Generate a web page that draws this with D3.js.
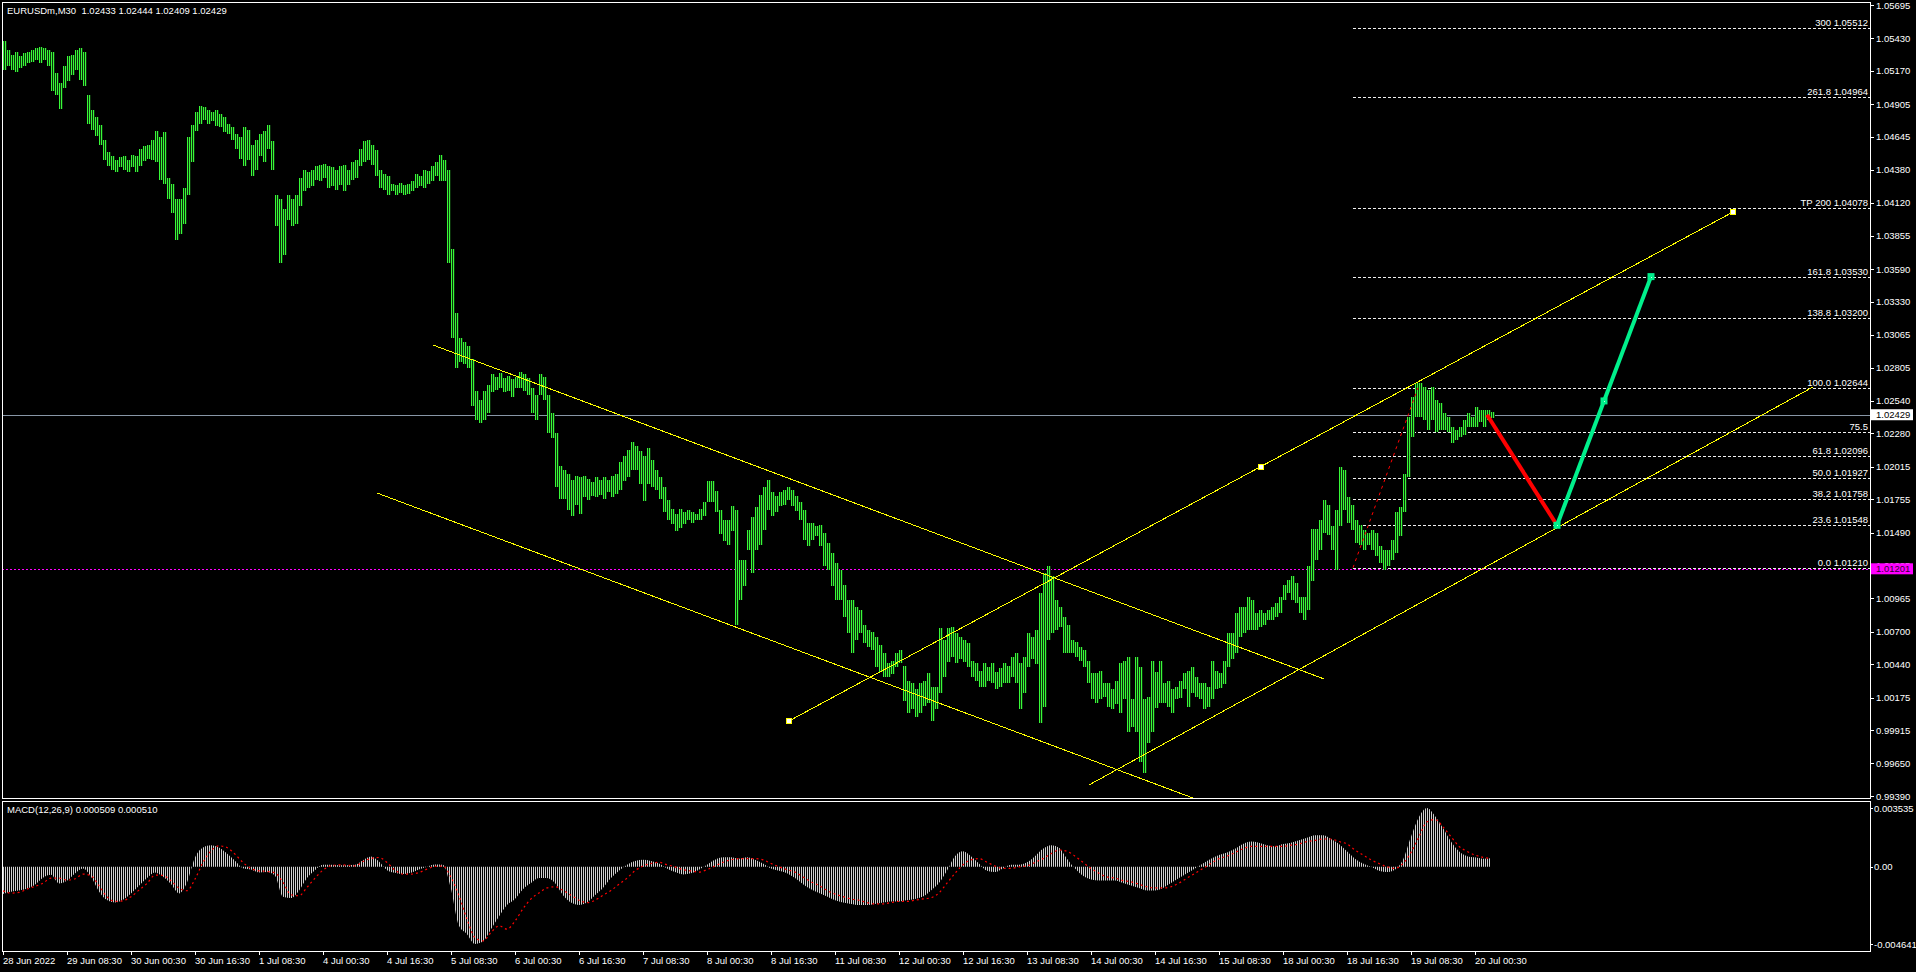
<!DOCTYPE html>
<html><head><meta charset="utf-8">
<script src="https://cdn.jsdelivr.net/npm/d3@7"></script>
<style>
body{margin:0;background:#000;overflow:hidden}
svg{display:block}
text{font-family:"Liberation Sans",Arial,sans-serif;font-size:9.5px;fill:#fff;white-space:pre}
</style></head><body>
<svg id="c" width="1916" height="972"></svg>
<script>
// ---------- DATA ----------
const symbolTitle = "EURUSDm,M30  1.02433 1.02444 1.02409 1.02429";
const macdTitle = "MACD(12,26,9) 0.000509 0.000510";
// hourly high / low (each entry spans two M30 bars)
const barHigh = [
1.0541,1.0534,1.0530,1.0532,1.0529,1.0531,1.0532,1.0534,1.0535,1.0536,1.0535,1.0534,
1.0532,1.0515,1.0507,1.0521,1.0529,1.0530,1.0534,1.0535,1.0532,1.0498,1.0486,1.0480,1.0474,
1.0462,1.0452,1.0449,1.0446,1.0448,1.0449,1.0446,1.0450,1.0449,1.0455,1.0457,1.0458,1.0462,1.0469,1.0464,1.0468,
1.0432,1.0427,1.0415,1.0415,1.0424,1.0464,1.0474,1.0484,1.0489,
1.0488,1.0486,1.0484,1.0486,1.0483,1.0480,1.0475,1.0472,1.0467,1.0464,
1.0472,1.0470,1.0458,1.0462,1.0467,1.0469,1.0474,1.0461,
1.0418,1.0415,1.0407,1.0418,1.0415,1.0418,1.0432,1.0438,1.0436,1.0438,1.0441,
1.0442,1.0443,1.0441,1.0440,1.0438,1.0441,1.0442,1.0438,1.0444,1.0446,
1.0455,1.0461,1.0462,1.0458,1.0454,1.0438,1.0435,1.0433,1.0427,1.0426,1.0428,1.0426,1.0427,1.0429,
1.0435,1.0433,1.0438,1.0437,1.0441,1.0444,1.0450,1.0446,
1.0438,1.0375,1.0324,1.0304,1.0301,1.0298,1.0287,1.0262,1.0255,1.0262,1.0267,
1.0275,1.0273,1.0276,1.0272,1.0274,1.0271,1.0273,1.0277,1.0275,1.0272,
1.0264,1.0259,1.0275,1.0273,1.0259,1.0244,1.0228,1.0202,
1.0199,1.0196,1.0191,1.0194,1.0193,1.0194,1.0192,1.0189,1.0193,1.0191,1.0193,1.0191,1.0194,1.0196,
1.0205,1.0210,1.0215,1.0221,1.0218,1.0214,1.0210,1.0216,
1.0207,1.0199,1.0193,1.0185,1.0175,1.0168,1.0164,
1.0168,1.0165,1.0167,1.0165,1.0164,1.0168,1.0173,1.0190,
1.0190,1.0182,1.0167,1.0159,1.0159,1.0170,
1.0167,1.0127,1.0127,1.0151,1.0161,1.0169,1.0179,1.0185,1.0191,
1.0181,1.0178,1.0181,1.0183,1.0185,1.0183,1.0178,
1.0173,1.0167,1.0157,1.0157,1.0154,1.0155,1.0149,1.0141,
1.0133,1.0125,1.0119,1.0107,1.0095,1.0095,
1.0090,1.0087,1.0075,1.0071,1.0070,1.0066,1.0059,
1.0053,1.0045,1.0047,1.0053,1.0055,1.0043,
1.0031,1.0029,1.0024,1.0029,1.0031,1.0037,1.0026,1.0026,1.0073,1.0063,
1.0073,1.0074,1.0069,1.0066,1.0063,1.0061,
1.0047,1.0045,1.0039,1.0045,1.0042,1.0045,1.0038,1.0041,
1.0045,1.0043,1.0050,1.0053,1.0045,1.0050,1.0069,1.0066,1.0071,
1.0101,1.0117,1.0122,1.0114,1.0095,
1.0090,1.0082,1.0075,1.0063,1.0062,1.0058,1.0055,1.0047,
1.0037,1.0037,1.0039,1.0029,1.0029,1.0024,1.0031,1.0045,1.0047,1.0050,
1.0016,1.0050,1.0042,1.0016,1.0018,1.0047,1.0038,
1.0047,1.0029,1.0031,1.0024,1.0026,
1.0031,1.0037,1.0039,1.0042,1.0034,1.0029,1.0029,
1.0026,1.0047,1.0039,1.0037,1.0047,
1.0069,1.0069,1.0085,1.0090,1.0090,
1.0098,1.0095,1.0085,1.0087,1.0085,
1.0087,1.0090,1.0093,1.0098,
1.0107,1.0111,1.0114,1.0109,
1.0098,1.0098,1.0122,1.0152,
1.0152,1.0159,1.0175,
1.0171,1.0154,1.0167,1.0201,1.0199,
1.0177,1.0171,1.0159,
1.0155,1.0151,1.0149,1.0151,1.0149,
1.0138,1.0135,1.0135,1.0143,1.0165,
1.0169,1.0196,1.0241,1.0257,1.0268,
1.0268,1.0265,1.0263,1.0265,1.0255,
1.0252,1.0244,1.0241,
1.0233,1.0231,1.0233,1.0239,1.0244,
1.0241,1.0249,1.0247,1.0247,1.0247,1.0245];
const barLow = [
1.0518,1.0521,1.0518,1.0516,1.0519,1.0521,1.0523,1.0524,1.0526,1.0523,1.0526,1.0521,
1.0501,1.0498,1.0487,1.0503,1.0509,1.0514,1.0518,1.0510,1.0505,1.0475,1.0470,1.0465,1.0458,
1.0446,1.0441,1.0438,1.0436,1.0440,1.0438,1.0436,1.0440,1.0436,1.0441,1.0445,1.0447,1.0446,1.0444,1.0430,1.0427,
1.0415,1.0404,1.0382,1.0387,1.0395,1.0418,1.0444,1.0469,1.0475,
1.0478,1.0475,1.0477,1.0473,1.0472,1.0468,1.0467,1.0462,1.0455,1.0447,
1.0441,1.0446,1.0433,1.0438,1.0449,1.0444,1.0455,1.0438,
1.0393,1.0364,1.0370,1.0398,1.0393,1.0395,1.0409,1.0421,1.0424,1.0425,1.0430,
1.0429,1.0432,1.0424,1.0425,1.0422,1.0426,1.0421,1.0426,1.0430,1.0432,
1.0441,1.0444,1.0446,1.0442,1.0433,1.0424,1.0422,1.0418,1.0421,1.0418,1.0420,1.0418,1.0419,1.0421,
1.0424,1.0425,1.0424,1.0427,1.0429,1.0433,1.0429,1.0429,
1.0364,1.0304,1.0280,1.0285,1.0283,1.0280,1.0250,1.0239,1.0236,1.0239,1.0244,
1.0261,1.0263,1.0264,1.0261,1.0262,1.0257,1.0264,1.0264,1.0262,1.0259,
1.0244,1.0239,1.0259,1.0255,1.0228,1.0224,1.0185,1.0176,
1.0176,1.0167,1.0162,1.0171,1.0164,1.0177,1.0175,1.0178,1.0177,1.0179,1.0176,1.0181,1.0177,1.0180,
1.0183,1.0190,1.0193,1.0199,1.0199,1.0188,1.0174,1.0188,
1.0185,1.0183,1.0176,1.0165,1.0159,1.0156,1.0150,
1.0153,1.0156,1.0159,1.0157,1.0159,1.0159,1.0162,1.0173,
1.0173,1.0165,1.0148,1.0142,1.0139,1.0150,
1.0075,1.0095,1.0106,1.0135,1.0117,1.0135,1.0139,1.0151,1.0167,
1.0162,1.0165,1.0170,1.0171,1.0175,1.0170,1.0166,
1.0159,1.0143,1.0138,1.0143,1.0146,1.0138,1.0122,1.0119,
1.0106,1.0095,1.0095,1.0082,1.0069,1.0053,
1.0063,1.0069,1.0061,1.0058,1.0055,1.0042,1.0038,
1.0034,1.0034,1.0036,1.0042,1.0045,1.0015,
1.0005,1.0008,1.0002,1.0005,1.0011,1.0013,0.9999,1.0008,1.0021,1.0034,
1.0046,1.0050,1.0045,1.0048,1.0046,1.0042,
1.0034,1.0031,1.0026,1.0026,1.0031,1.0029,1.0024,1.0026,
1.0029,1.0029,1.0034,1.0029,1.0008,1.0021,1.0042,1.0048,1.0044,
0.9997,1.0010,1.0063,1.0069,1.0071,
1.0074,1.0053,1.0053,1.0053,1.0050,1.0047,1.0042,1.0029,
1.0016,1.0013,1.0016,1.0018,1.0010,1.0008,1.0012,1.0005,1.0016,0.9990,
0.9994,0.9990,0.9966,0.9957,0.9981,0.9990,1.0009,
1.0013,1.0013,1.0010,1.0005,1.0016,
1.0017,1.0024,1.0010,1.0021,1.0018,1.0016,1.0008,
1.0010,1.0016,1.0024,1.0025,1.0028,
1.0042,1.0048,1.0053,1.0066,1.0069,
1.0071,1.0071,1.0071,1.0074,1.0075,
1.0079,1.0079,1.0082,1.0085,
1.0095,1.0101,1.0095,1.0093,
1.0085,1.0079,1.0087,1.0110,
1.0127,1.0135,1.0149,
1.0147,1.0135,1.0119,1.0154,1.0167,
1.0157,1.0151,1.0141,
1.0139,1.0135,1.0139,1.0135,1.0130,
1.0125,1.0119,1.0122,1.0127,1.0133,
1.0146,1.0165,1.0193,1.0225,1.0241,
1.0241,1.0239,1.0231,1.0239,1.0229,
1.0231,1.0231,1.0229,
1.0220,1.0223,1.0225,1.0227,1.0233,
1.0233,1.0233,1.0237,1.0233,1.0239,1.0240];

// MACD main (histogram) and signal, one value every 4 bars
const macdMain = [
-0.00164,-0.00150,-0.00142,-0.00132,-0.00108,-0.00066,-0.00048,-0.00100,-0.00084,-0.00040,
-0.00010,-0.00060,-0.00148,-0.00200,-0.00214,-0.00198,-0.00160,-0.00114,-0.00068,-0.00034,
-0.00060,-0.00104,-0.00160,-0.00094,0.00056,0.00116,0.00130,0.00116,0.00080,0.00036,
-0.00008,-0.00016,-0.00034,-0.00032,-0.00054,-0.00180,-0.00188,-0.00144,-0.00068,-0.00020,
0.00012,0.00012,0.00010,0.00010,0.00012,0.00040,0.00062,0.00032,-0.00020,-0.00036,
-0.00044,-0.00036,-0.00016,0.00000,0.00014,0.00012,-0.00134,-0.00355,-0.00405,-0.00464,
-0.00449,-0.00375,-0.00299,
-0.00230,-0.00193,-0.00135,-0.00098,-0.00068,-0.00068,-0.00098,-0.00171,-0.00215,-0.00230,
-0.00215,-0.00171,-0.00127,-0.00068,-0.00024,0.00012,0.00035,0.00042,0.00035,0.00020,
-0.00010,-0.00032,-0.00046,-0.00039,-0.00017,0.00012,0.00042,0.00057,0.00057,0.00049,
0.00057,0.00042,0.00020,-0.00010,-0.00024,-0.00039,-0.00068,-0.00105,-0.00135,-0.00157,
-0.00179,-0.00201,-0.00215,-0.00223,-0.00230,-0.00230,-0.00223,-0.00215,-0.00208,-0.00208,
-0.00201,-0.00193,-0.00179,-0.00142,-0.00098,-0.00024,0.00064,0.00093,0.00064,0.00020,
-0.00024,-0.00032,-0.00010,0.00012,0.00012,0.00027,0.00064,0.00108,0.00130,0.00115,
0.00049,-0.00010,-0.00054,-0.00076,-0.00083,-0.00083,-0.00083,-0.00098,-0.00112,-0.00127,
-0.00142,-0.00142,-0.00127,-0.00098,-0.00068,-0.00039,-0.00010,0.00020,0.00049,0.00071,
0.00086,0.00108,0.00137,0.00152,0.00145,0.00130,0.00123,0.00137,0.00145,0.00159,
0.00174,0.00189,0.00189,0.00167,0.00137,0.00093,0.00049,0.00020,0.00000,-0.00024,
-0.00032,-0.00017,0.00042,0.00181,0.00299,0.00353,0.00306,0.00233,0.00152,0.00093,
0.00064,0.00057,0.00049,0.00051];
const macdSignal = [
-0.00144,-0.00158,-0.00154,-0.00134,-0.00118,-0.00098,-0.00068,-0.00068,-0.00080,-0.00072,
-0.00044,-0.00054,-0.00114,-0.00180,-0.00208,-0.00204,-0.00180,-0.00140,-0.00100,-0.00050,
-0.00052,-0.00084,-0.00128,-0.00144,-0.00074,0.00026,0.00096,0.00126,0.00116,0.00076,
0.00026,-0.00010,-0.00024,-0.00028,-0.00036,-0.00094,-0.00168,-0.00174,-0.00124,-0.00068,
-0.00020,0.00006,0.00012,0.00010,0.00006,0.00032,0.00050,0.00056,0.00026,-0.00020,
-0.00044,-0.00044,-0.00034,-0.00014,0.00002,0.00004,-0.00064,-0.00174,-0.00315,-0.00425,
-0.00445,-0.00395,-0.00355,
-0.00375,-0.00326,-0.00252,-0.00193,-0.00157,-0.00127,-0.00120,-0.00142,-0.00171,-0.00201,
-0.00215,-0.00201,-0.00171,-0.00142,-0.00105,-0.00068,-0.00024,0.00005,0.00020,0.00027,
0.00012,0.00000,-0.00017,-0.00024,-0.00032,-0.00017,0.00005,0.00027,0.00042,0.00049,
0.00049,0.00049,0.00042,0.00020,0.00000,-0.00017,-0.00032,-0.00061,-0.00090,-0.00112,
-0.00142,-0.00164,-0.00179,-0.00193,-0.00201,-0.00215,-0.00223,-0.00223,-0.00215,-0.00208,
-0.00208,-0.00201,-0.00193,-0.00186,-0.00157,-0.00098,-0.00039,0.00012,0.00042,0.00049,
0.00027,0.00005,-0.00010,-0.00010,0.00000,0.00005,0.00027,0.00049,0.00079,0.00101,
0.00093,0.00064,0.00027,-0.00010,-0.00039,-0.00061,-0.00068,-0.00083,-0.00090,-0.00105,
-0.00120,-0.00127,-0.00127,-0.00120,-0.00098,-0.00068,-0.00039,-0.00010,0.00020,0.00049,
0.00064,0.00086,0.00108,0.00123,0.00123,0.00123,0.00123,0.00123,0.00130,0.00137,
0.00152,0.00159,0.00167,0.00167,0.00152,0.00137,0.00101,0.00071,0.00042,0.00020,
0.00000,-0.00010,0.00020,0.00086,0.00181,0.00270,0.00284,0.00240,0.00181,0.00123,
0.00093,0.00071,0.00057,0.00051];

const priceTicks = [1.05695,1.05430,1.05170,1.04905,1.04645,1.04380,1.04120,1.03855,1.03590,1.03330,1.03065,1.02805,1.02540,1.02280,1.02015,1.01755,1.01490,1.01225,1.00965,1.00700,1.00440,1.00175,0.99915,0.99650,0.99390];
const macdTicks = [0.003535, 0, -0.004641];
const macdTickLabels = ["0.003535", "0.00", "-0.004641"];
const timeLabels = ["28 Jun 2022","29 Jun 08:30","30 Jun 00:30","30 Jun 16:30","1 Jul 08:30","4 Jul 00:30","4 Jul 16:30","5 Jul 08:30","6 Jul 00:30","6 Jul 16:30","7 Jul 08:30","8 Jul 00:30","8 Jul 16:30","11 Jul 08:30","12 Jul 00:30","12 Jul 16:30","13 Jul 08:30","14 Jul 00:30","14 Jul 16:30","15 Jul 08:30","18 Jul 00:30","18 Jul 16:30","19 Jul 08:30","20 Jul 00:30"];
const barsPerTimeLabel = 32;

const lastPrice = 1.02429;
const alertPrice = 1.01201;
// fibonacci expansion
const fibLow = 1.01210, fibHigh = 1.02644;
const fibLowBar = 675, fibHighBar = 707.5;
const fibLevels = [0, 23.6, 38.2, 50.0, 61.8, 75.5, 100.0, 138.8, 161.8, 200, 261.8, 300];
const fibLabels = ["0.0 1.01210","23.6 1.01548","38.2 1.01758","50.0 1.01927","61.8 1.02096","75.5","100.0 1.02644","138.8 1.03200","161.8 1.03530","TP 200 1.04078","261.8 1.04964","300 1.05512"];
// trend lines [bar, price]
const channelDownUpper = [[215, 1.02985], [660.5, 1.00323]];
const channelDownLower = [[187, 1.01805], [595, 0.99374]];
const channelUp1 = [[393, 0.99988], [865, 1.04045]];
const channelUp1Marks = [[393, 0.99988], [629, 1.02013], [865, 1.04045]];
const channelUp2 = [[543, 0.99478], [905, 1.02650]];
const projDown = [[742, 1.02429], [777, 1.01548]];
const projUp = [[777, 1.01548], [800.5, 1.02539], [824, 1.03530]];

// ---------- LAYOUT ----------
const L = 2, R = 1870, mainTop = 2, mainBottom = 798, macdTop = 801, macdBottom = 951;
const svg = d3.select("#c");
svg.append("rect").attr("width",1916).attr("height",972).attr("fill","#000");

const xB = d3.scaleLinear().domain([0, 1]).range([3, 5]);
const yP = d3.scaleLinear().domain([0.99390, 1.05695]).range([796, 5]);
const yM = d3.scaleLinear().domain([-0.004641, 0.003535]).range([944, 808]);

const defs = svg.append("defs");
const pg = defs.append("pattern").attr("id","gStripe").attr("patternUnits","userSpaceOnUse")
  .attr("x",1).attr("y",0).attr("width",2).attr("height",4);
pg.append("rect").attr("width",1).attr("height",4).attr("fill","#38f838");
pg.append("rect").attr("x",1).attr("width",1).attr("height",4).attr("fill","#0a300a");
const ph = defs.append("pattern").attr("id","hStripe").attr("patternUnits","userSpaceOnUse")
  .attr("x",1).attr("y",0).attr("width",2).attr("height",4);
ph.append("rect").attr("width",1).attr("height",4).attr("fill","#d0d0d0");
defs.append("clipPath").attr("id","clipMain").append("rect")
  .attr("x",L+1).attr("y",mainTop+1).attr("width",R-L-1).attr("height",mainBottom-mainTop-1);
defs.append("clipPath").attr("id","clipMacd").append("rect")
  .attr("x",L+1).attr("y",macdTop+1).attr("width",R-L-1).attr("height",macdBottom-macdTop-1);

const main = svg.append("g").attr("clip-path","url(#clipMain)");

// fib level lines
const fibPrice = p => fibLow + p/100*(fibHigh - fibLow);
main.append("g").selectAll("line").data(fibLevels).join("line")
  .attr("x1", xB(fibLowBar)).attr("x2", R)
  .attr("y1", d => Math.round(yP(fibPrice(d)))+0.5).attr("y2", d => Math.round(yP(fibPrice(d)))+0.5)
  .attr("stroke","#f0f0f0").attr("stroke-width",1).attr("stroke-dasharray","3,2");
svg.append("g").selectAll("text").data(fibLevels).join("text")
  .attr("x", R-2).attr("y", d => Math.round(yP(fibPrice(d))) - 2.5)
  .attr("text-anchor","end").text((d,i) => fibLabels[i]);

// last price line and alert line
main.append("line").attr("x1",L).attr("x2",R)
  .attr("y1",Math.round(yP(lastPrice))+0.5).attr("y2",Math.round(yP(lastPrice))+0.5)
  .attr("stroke","#8896a6").attr("stroke-width",1);
main.append("line").attr("x1",L).attr("x2",R)
  .attr("y1",Math.round(yP(alertPrice))+0.5).attr("y2",Math.round(yP(alertPrice))+0.5)
  .attr("stroke","#ff00ff").attr("stroke-width",1).attr("stroke-dasharray","2,2");

// price bars
main.append("g").selectAll("rect").data(barHigh).join("rect")
  .attr("x", (d,i) => xB(2*i)).attr("width", (d,i) => xB(2*i+2) - xB(2*i))
  .attr("y", d => Math.round(yP(d)))
  .attr("height", (d,i) => Math.max(1, Math.round(yP(barLow[i])) - Math.round(yP(d))))
  .attr("fill","url(#gStripe)").attr("shape-rendering","crispEdges");

// trend lines
const tl = d3.line().x(d => xB(d[0])).y(d => yP(d[1]));
[channelDownUpper, channelDownLower, channelUp1, channelUp2].forEach(seg => {
  main.append("path").attr("d", tl(seg)).attr("fill","none").attr("stroke","#ffff00")
    .attr("stroke-width",1).attr("shape-rendering","crispEdges");
});
// fib base dotted line
main.append("path").attr("d", tl([[fibLowBar, fibLow],[fibHighBar, fibHigh]]))
  .attr("fill","none").attr("stroke","#ff0000").attr("stroke-width",1).attr("stroke-dasharray","3,4");
// projection
main.append("path").attr("d", tl(projDown)).attr("fill","none").attr("stroke","#ff0000").attr("stroke-width",4);
main.append("path").attr("d", tl(projUp)).attr("fill","none").attr("stroke","#00f08c").attr("stroke-width",4);
main.append("g").selectAll("rect").data(projUp).join("rect")
  .attr("x", d => xB(d[0]) - 3.5).attr("y", d => yP(d[1]) - 3.5).attr("width",7).attr("height",7)
  .attr("fill","#00f08c");
main.append("g").selectAll("rect").data(projUp).join("rect")
  .attr("x", d => Math.round(xB(d[0]))).attr("y", d => Math.round(yP(d[1]))).attr("width",1).attr("height",1)
  .attr("fill","#c0ffe0");
main.append("g").selectAll("rect").data(channelUp1Marks).join("rect")
  .attr("x", d => Math.round(xB(d[0])) - 2.5).attr("y", d => Math.round(yP(d[1])) - 2.5).attr("width",5).attr("height",5)
  .attr("fill","#ffffff").attr("stroke","#ffff00").attr("stroke-width",1);

// MACD
const mg = svg.append("g").attr("clip-path","url(#clipMacd)");
const area = d3.area().x((d,i) => xB(4*i)).y0(yM(0)).y1(d => yM(d)).curve(d3.curveMonotoneX);
mg.append("path").attr("d", area(macdMain)).attr("fill","url(#hStripe)");
const sl = d3.line().x((d,i) => xB(4*i)).y(d => yM(d)).curve(d3.curveMonotoneX);
mg.append("path").attr("d", sl(macdSignal)).attr("fill","none").attr("stroke","#ff0000")
  .attr("stroke-width",1.2).attr("stroke-dasharray","2,3");

// frames
svg.append("rect").attr("x",L+0.5).attr("y",mainTop+0.5).attr("width",R-L).attr("height",mainBottom-mainTop)
  .attr("fill","none").attr("stroke","#fff").attr("stroke-width",1);
svg.append("rect").attr("x",L+0.5).attr("y",macdTop+0.5).attr("width",R-L).attr("height",macdBottom-macdTop)
  .attr("fill","none").attr("stroke","#fff").attr("stroke-width",1);

// price axis
const pa = svg.append("g");
pa.selectAll("line").data(priceTicks).join("line")
  .attr("x1",R+0.5).attr("x2",R+4).attr("y1",d => Math.round(yP(d))+0.5).attr("y2",d => Math.round(yP(d))+0.5)
  .attr("stroke","#fff");
pa.selectAll("text").data(priceTicks).join("text")
  .attr("x",R+6).attr("y",d => yP(d)+3.5).text(d => d.toFixed(5));
// current price box
svg.append("rect").attr("x",R+1).attr("y",yP(lastPrice)-5.5).attr("width",42).attr("height",11).attr("fill","#fff");
svg.append("text").attr("x",R+6).attr("y",yP(lastPrice)+3.5).style("fill","#000").text(lastPrice.toFixed(5));
svg.append("rect").attr("x",R+1).attr("y",yP(alertPrice)-5.5).attr("width",42).attr("height",11).attr("fill","#ff00ff");
svg.append("text").attr("x",R+6).attr("y",yP(alertPrice)+3.5).style("fill","#300030").text(alertPrice.toFixed(5));

// MACD axis
const ma = svg.append("g");
ma.selectAll("line").data(macdTicks).join("line")
  .attr("x1",R+0.5).attr("x2",R+3).attr("y1",d => Math.round(yM(d))+0.5).attr("y2",d => Math.round(yM(d))+0.5)
  .attr("stroke","#fff");
ma.selectAll("text").data(macdTicks).join("text")
  .attr("x",R+4).attr("y",d => yM(d)+3.5).text((d,i) => macdTickLabels[i]);

// time axis
const ta = svg.append("g");
ta.selectAll("line").data(timeLabels).join("line")
  .attr("x1",(d,i) => xB(barsPerTimeLabel*i)+0.5).attr("x2",(d,i) => xB(barsPerTimeLabel*i)+0.5)
  .attr("y1",macdBottom).attr("y2",macdBottom+4).attr("stroke","#fff");
ta.selectAll("text").data(timeLabels).join("text")
  .attr("x",(d,i) => xB(barsPerTimeLabel*i)).attr("y",964).text(d => d);

// titles
svg.append("text").attr("x",7).attr("y",14).text(symbolTitle);
svg.append("text").attr("x",7).attr("y",813).text(macdTitle);
</script></body></html>
